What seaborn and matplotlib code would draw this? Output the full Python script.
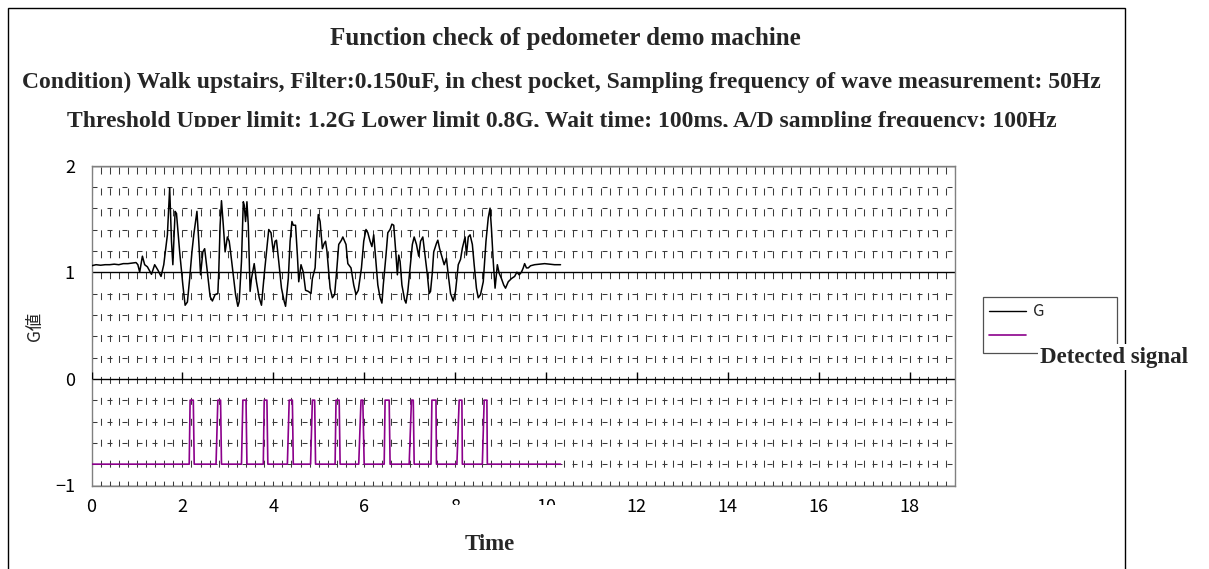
import numpy as np
import pandas as pd
import matplotlib
matplotlib.use("Agg")
import matplotlib.pyplot as plt
import seaborn as sns
from matplotlib.patches import Rectangle
from matplotlib.lines import Line2D
from matplotlib.ticker import MultipleLocator

# ---------------- data ----------------
title = "Function check of pedometer demo machine"
subtitle1 = "Condition) Walk upstairs, Filter:0.150uF, in chest pocket, Sampling frequency of wave measurement: 50Hz"
subtitle2 = "Threshold Upper limit: 1.2G Lower limit 0.8G, Wait time: 100ms, A/D sampling frequency: 100Hz"
x_label = "Time"
y_label = "G値"
series_names = ["G", "Detected signal"]

g_t = [0.00, 0.10, 0.20, 0.30, 0.40, 0.50, 0.60, 0.70, 0.80, 0.90, 0.98, 1.02, 1.06, 1.12, 1.17,
       1.23, 1.32, 1.39, 1.46, 1.53, 1.59, 1.67, 1.72, 1.76, 1.79, 1.84, 1.87, 1.94, 2.01, 2.06,
       2.11, 2.16, 2.21, 2.25, 2.32, 2.36, 2.40, 2.45, 2.49, 2.55, 2.61, 2.66, 2.72, 2.78, 2.80,
       2.83, 2.86, 2.90, 2.94, 2.99, 3.03, 3.06, 3.12, 3.17, 3.22, 3.25, 3.30, 3.34, 3.36, 3.39,
       3.42, 3.45, 3.49, 3.52, 3.58, 3.63, 3.69, 3.74, 3.80, 3.85, 3.90, 3.95, 4.00, 4.04, 4.07,
       4.12, 4.18, 4.24, 4.27, 4.33, 4.37, 4.41, 4.44, 4.49, 4.53, 4.56, 4.61, 4.66, 4.71, 4.77,
       4.83, 4.86, 4.92, 4.95, 4.99, 5.03, 5.08, 5.12, 5.15, 5.18, 5.22, 5.25, 5.30, 5.35, 5.40,
       5.44, 5.50, 5.53, 5.57, 5.60, 5.64, 5.71, 5.77, 5.82, 5.87, 5.94, 5.99, 6.04, 6.08, 6.13,
       6.17, 6.21, 6.24, 6.30, 6.35, 6.39, 6.42, 6.48, 6.52, 6.57, 6.61, 6.65, 6.70, 6.73, 6.76,
       6.79, 6.83, 6.89, 6.92, 6.96, 7.01, 7.06, 7.10, 7.15, 7.20, 7.24, 7.29, 7.33, 7.39, 7.43,
       7.46, 7.50, 7.53, 7.59, 7.62, 7.66, 7.70, 7.76, 7.81, 7.85, 7.90, 7.96, 8.01, 8.07, 8.12,
       8.16, 8.22, 8.25, 8.29, 8.33, 8.38, 8.42, 8.47, 8.51, 8.56, 8.62, 8.68, 8.73, 8.77, 8.80,
       8.84, 8.88, 8.93, 8.97, 9.02, 9.07, 9.11, 9.17, 9.24, 9.31, 9.36, 9.41, 9.46, 9.50, 9.53,
       9.57, 9.61, 9.66, 9.75, 9.86, 9.97, 10.08, 10.19, 10.32]
g_v = [1.06, 1.07, 1.065, 1.07, 1.07, 1.075, 1.07, 1.08, 1.08, 1.085, 1.09, 1.07, 1.00, 1.15, 1.07,
       1.05, 0.98, 1.07, 1.02, 0.96, 1.07, 1.35, 1.79, 1.29, 1.07, 1.57, 1.55, 1.19, 0.88, 0.69,
       0.72, 0.94, 1.19, 1.35, 1.57, 1.29, 0.975, 1.19, 1.22, 1.00, 0.77, 0.73, 0.79, 0.80, 1.00,
       1.44, 1.67, 1.44, 1.19, 1.33, 1.29, 1.19, 0.975, 0.79, 0.68, 0.725, 1.10, 1.66, 1.63, 1.475,
       1.66, 1.44, 0.82, 0.94, 1.08, 0.91, 0.76, 0.69, 0.975, 1.19, 1.40, 1.37, 1.19, 1.29, 1.30,
       1.10, 0.85, 0.725, 0.68, 0.94, 1.29, 1.475, 1.44, 1.44, 1.16, 0.91, 1.07, 1.00, 0.83, 0.82,
       0.80, 0.94, 1.04, 1.29, 1.54, 1.475, 1.22, 1.27, 1.29, 1.20, 1.00, 0.85, 0.76, 0.79, 1.04,
       1.26, 1.30, 1.33, 1.29, 1.26, 1.08, 1.04, 0.88, 0.79, 0.83, 1.04, 1.29, 1.40, 1.37, 1.29,
       1.24, 1.35, 1.19, 0.88, 0.76, 0.71, 0.88, 1.16, 1.37, 1.40, 1.45, 1.44, 1.16, 0.975, 1.16,
       1.10, 0.88, 0.74, 0.71, 0.82, 1.04, 1.26, 1.33, 1.26, 1.15, 1.29, 1.33, 1.19, 0.975, 0.80,
       0.82, 1.00, 1.19, 1.27, 1.30, 1.22, 1.16, 1.07, 1.13, 0.975, 0.80, 0.73, 0.82, 1.07, 1.12,
       1.225, 1.33, 1.16, 1.33, 1.35, 1.26, 1.07, 0.85, 0.76, 0.79, 0.91, 1.29, 1.51, 1.60, 1.41,
       1.10, 0.85, 1.07, 0.99, 0.94, 0.88, 0.85, 0.91, 0.94, 0.96, 1.00, 0.975, 1.00, 1.04, 1.08,
       1.04, 1.04, 1.06, 1.07, 1.075, 1.08, 1.075, 1.07, 1.07]

# detected signal: pulse edges (start of rise, top reached, start of fall, back to low)
sig_low = -0.8
sig_high = -0.2
sig_end = 10.32
pulse_rise = [2.15, 2.74, 3.30, 3.78, 4.31, 4.82, 5.36, 5.88, 6.44, 6.99, 7.47, 8.04, 8.60]
pulse_top = [2.17, 2.78, 3.33, 3.80, 4.35, 4.86, 5.38, 5.93, 6.46, 7.04, 7.49, 8.09, 8.64]
pulse_fall = [2.24, 2.84, 3.40, 3.86, 4.42, 4.91, 5.45, 5.97, 6.55, 7.08, 7.58, 8.15, 8.70]
pulse_low = [2.26, 2.86, 3.42, 3.88, 4.44, 4.93, 5.47, 6.00, 6.57, 7.10, 7.59, 8.16, 8.71]

x_ticks = [0, 2, 4, 6, 8, 10, 12, 14, 16, 18]
y_ticks = [-1, 0, 1, 2]
x_lim = (0, 19)
y_lim = (-1, 2)

# ---------------- build frames ----------------
sig_t = [0.0]
sig_v = [sig_low]
for a, b, c, d in zip(pulse_rise, pulse_top, pulse_fall, pulse_low):
    sig_t += [a, b, c, d]
    sig_v += [sig_low, sig_high, sig_high, sig_low]
sig_t.append(sig_end)
sig_v.append(sig_low)

df_g = pd.DataFrame({"t": g_t, "v": g_v})
df_s = pd.DataFrame({"t": sig_t, "v": sig_v})

# ---------------- style ----------------
sns.set_theme(style="white")
plt.rcParams["font.family"] = ["Noto Sans CJK JP", "DejaVu Sans"]
plt.rcParams["axes.unicode_minus"] = True

W, H = 1209, 569
fig = plt.figure(figsize=(W / 100, H / 100), dpi=100)
fig.patch.set_facecolor("white")

def fx(px):
    return px / W

def fy(py):
    return 1 - py / H

ax = fig.add_axes([fx(91.5), fy(485.5), fx(955) - fx(91.5), fy(165.5) - fy(485.5)])
ax.set_facecolor("white")

sns.lineplot(data=df_s, x="t", y="v", ax=ax, sort=False, estimator=None,
             color="#8B008B", linewidth=1.2, zorder=4)
sns.lineplot(data=df_g, x="t", y="v", ax=ax, sort=False, estimator=None,
             color="black", linewidth=1.1, zorder=5)

ax.set_xlim(*x_lim)
ax.set_ylim(*y_lim)
ax.set_xticks(x_ticks)
ax.set_yticks(y_ticks)
ax.xaxis.set_minor_locator(MultipleLocator(0.2))
ax.yaxis.set_minor_locator(MultipleLocator(0.2))
ax.set_xlabel("")
ax.set_ylabel("")

# dashed grid
ax.xaxis.grid(True, which="both", color="#3a3a3a", linewidth=0.75,
              linestyle=(2, (6.7, 13.4)))
ax.yaxis.grid(True, which="minor", color="#3a3a3a", linewidth=0.75,
              linestyle=(0, (4.8, 9.6)))
ax.yaxis.grid(True, which="major", color="black", linewidth=1.0, linestyle="-")
ax.set_axisbelow(True)

ax.tick_params(which="both", length=0)
ax.tick_params(axis="x", pad=9, labelsize=13, colors="black")
ax.tick_params(axis="y", pad=12, labelsize=13, colors="black")

# small tick marks on the zero line (category axis crossing at 0)
ax.vlines(x_ticks, 0, 0.065, color="black", linewidth=1.0, zorder=3)

for s in ax.spines.values():
    s.set_visible(True)
    s.set_color("#808080")
    s.set_linewidth(1.0)

# legend (frame drawn separately to match the original box size)
handles = [Line2D([], [], color="black", linewidth=1.0),
           Line2D([], [], color="#8B008B", linewidth=1.2)]
leg = fig.legend(handles, [series_names[0], ""], loc="upper left",
                 bbox_to_anchor=(fx(986), fy(300)), bbox_transform=fig.transFigure,
                 frameon=False, fontsize=12, handlelength=2.2, handletextpad=0.45,
                 borderpad=0.2, labelspacing=0.45, borderaxespad=0)
leg.set_zorder(2)
fig.patches.append(Rectangle((fx(983), fy(353)), fx(1117) - fx(983), fy(297) - fy(353),
                             transform=fig.transFigure, fill=False,
                             edgecolor="#505050", linewidth=0.9, zorder=1))

# outer chart-area frame
fig.patches.append(Rectangle((fx(8), -0.1), fx(1125) - fx(8), fy(8) + 0.1,
                             transform=fig.transFigure, fill=False,
                             edgecolor="black", linewidth=1.0, zorder=1))

fig.text(fx(1040), fy(357), series_names[1], ha="left", va="center",
         fontsize=16.5, fontweight="bold", family="Liberation Serif",
         bbox=dict(facecolor="white", edgecolor="none", pad=1.5), zorder=6)

# titles
fig.text(fx(565), fy(38), title, ha="center", va="center", fontsize=18,
         fontweight="bold", family="Liberation Serif", zorder=3)
fig.text(fx(561), fy(82), subtitle1, ha="center", va="center", fontsize=17,
         fontweight="bold", family="Liberation Serif", zorder=3)
fig.text(fx(562), fy(121), subtitle2, ha="center", va="center", fontsize=17,
         fontweight="bold", family="Liberation Serif", zorder=3)
# plot-area cover that hides the lower part of the last subtitle line
fig.patches.append(Rectangle((fx(15), fy(160)), fx(1115) - fx(15), fy(127) - fy(160),
                             transform=fig.transFigure, facecolor="white",
                             edgecolor="none", zorder=4))

# axis titles
fig.text(fx(35), fy(326), y_label, rotation=90, ha="center", va="center",
         fontsize=12.5)
# axis-title box that overlaps the lower part of the 8 / 10 labels
fig.patches.append(Rectangle((fx(440), fy(540)), fx(560) - fx(440), fy(505) - fy(540),
                             transform=fig.transFigure, facecolor="white",
                             edgecolor="none", zorder=2))
fig.text(fx(490), fy(545), x_label, ha="center", va="center", fontsize=16.5,
         fontweight="bold", family="Liberation Serif", zorder=3)

fig.savefig("out.png", dpi=100, facecolor="white")
